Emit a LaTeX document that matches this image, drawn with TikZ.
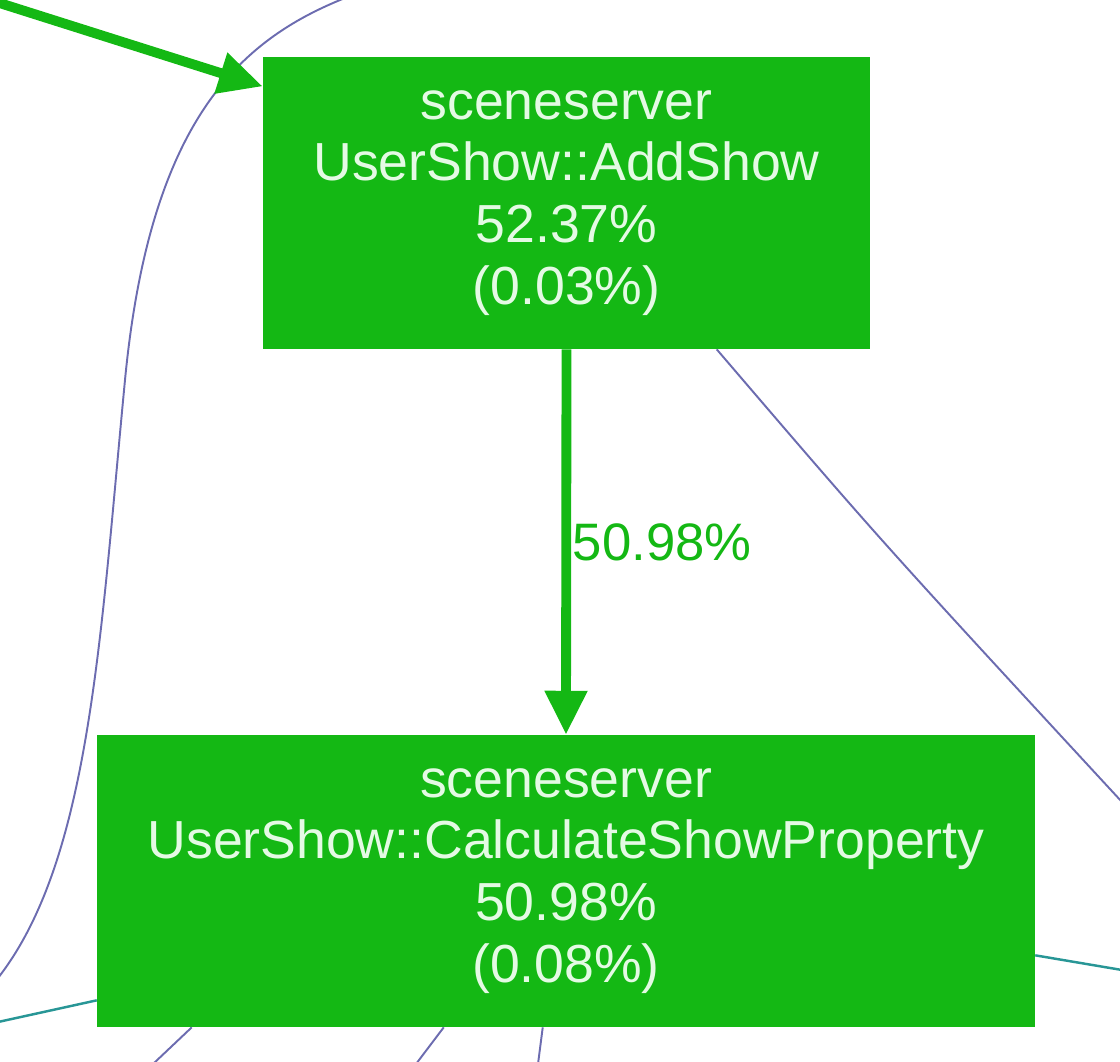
\documentclass[tikz,border=0pt]{standalone}
\usepackage{fontspec}
\setmainfont{Liberation Sans}
\usetikzlibrary{arrows.meta, calc}

\definecolor{hotgreen}{RGB}{20,184,20}
\definecolor{nodetext}{RGB}{228,250,228}
\definecolor{coldblue}{RGB}{108,108,176}
\definecolor{coldteal}{RGB}{40,150,150}

\tikzset{
  func/.style={rectangle, fill=hotgreen, text=nodetext, align=center, inner sep=0,
    font=\fontsize{30.5}{35.2}\selectfont},
  hotedge/.style={draw=hotgreen, line width=5.6pt, -{Triangle[length=25pt, width=23pt]}},
  thinblue/.style={draw=coldblue, line width=1.1pt},
  thinteal/.style={draw=coldteal, line width=1.4pt}
}

\begin{document}
\begin{tikzpicture}[>=latex, x=0.02cm, y=-0.02cm]
\useasboundingbox (0,0) rectangle (1120,1062);

\draw[thinblue] (345,-2) .. controls (240,40) and (150,120) .. (125,380)
  .. controls (100,640) and (90,860) .. (-2,978); %long call from above

\node[func, minimum width=12.14cm, minimum height=5.84cm] (addshow) at (566.5,203)
  {sceneserver\\UserShow::AddShow\\52.37\%\\(0.03\%)};
\node[func, minimum width=18.76cm, minimum height=5.84cm] (calcprop) at (566,881)
  {sceneserver\\UserShow::CalculateShowProperty\\50.98\%\\(0.08\%)};

\coordinate (caller) at (-10,0);
\draw[hotedge] (caller) -- (addshow.159); %into AddShow

\draw[hotedge] (addshow.south) -- (calcprop.north)
  node[midway, right, inner sep=0, xshift=1, text=hotgreen,
    font=\fontsize{30}{34}\selectfont]{50.98\%}; %50.98%

\coordinate (rightout) at (1122,802);
\draw[thinblue] ($(addshow.south west)+(454,0)$) .. controls (880,540) .. (rightout); %to the right

\coordinate (leftout) at (-2,1022);
\coordinate (rightteal) at (1122,970);
\draw[thinteal] ($(calcprop.south west)+(0,-27)$) -- (leftout);
\draw[thinteal] ($(calcprop.south east)+(0,-72)$) -- (rightteal);

\coordinate (outa) at (153,1064);
\coordinate (outb) at (416,1064);
\coordinate (outc) at (538,1064);
\draw[thinblue] ($(calcprop.south west)+(95,0)$) -- (outa);
\draw[thinblue] ($(calcprop.south west)+(347,0)$) -- (outb);
\draw[thinblue] ($(calcprop.south west)+(446,0)$) -- (outc);

\end{tikzpicture}
\end{document}
